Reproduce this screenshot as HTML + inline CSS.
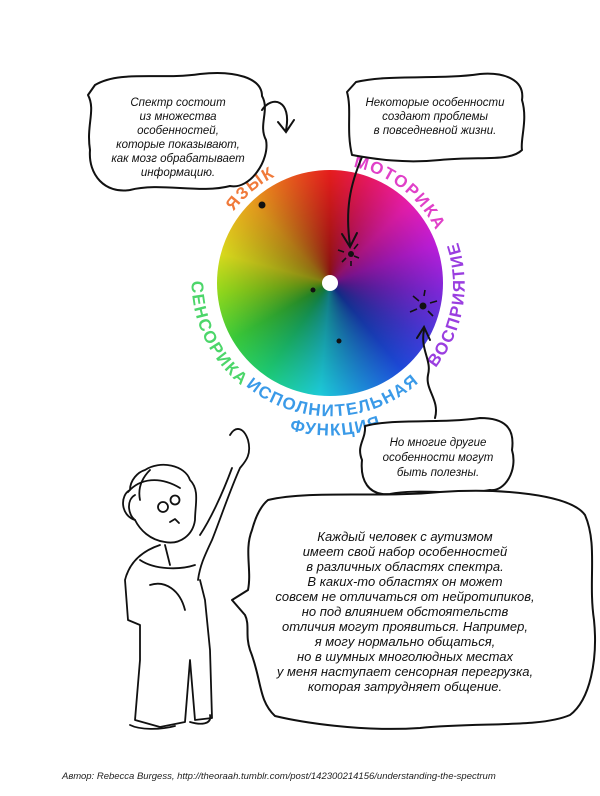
<!DOCTYPE html>
<html><head><meta charset="utf-8"><style>
html,body{margin:0;padding:0;background:#fff}
#c{position:relative;width:600px;height:796px;overflow:hidden;background:#fff}
.wheel{position:absolute;left:217px;top:170px;width:226px;height:226px;border-radius:50%;
background:radial-gradient(circle,rgba(0,0,0,.5) 0%,rgba(0,0,0,.3) 35%,rgba(0,0,0,.1) 70%,rgba(0,0,0,0) 100%),
conic-gradient(#ff2020 0deg,#ff1a6a 20deg,#ff20c0 45deg,#d020f0 70deg,#8a2cf0 95deg,#4a40f0 120deg,#2050f0 140deg,#20a0f0 165deg,#20e0f0 185deg,#20e080 215deg,#40e040 240deg,#a0f020 265deg,#f0f020 285deg,#ffb020 315deg,#ff6020 340deg,#ff2020 360deg)}
svg{position:absolute;left:0;top:0}
text{font-family:"Liberation Sans",sans-serif}
.t{font-style:italic;font-size:11.5px;fill:#111;text-anchor:middle}
.b{font-style:italic;font-size:13px;fill:#111;text-anchor:middle}
.lab{font-weight:bold;font-size:17px;letter-spacing:1.5px}
</style></head><body><div id="c">
<div class="wheel"></div>
<svg width="600" height="796" viewBox="0 0 600 796">
<defs>
<path id="p1" d="M217,242 A120 120 0 0 1 309,165"/>
<path id="p2" d="M340,165 A118 118 0 0 1 444,252"/>
<path id="p3" d="M433,371 A134 134 0 0 0 456,237"/>
<path id="p4" d="M236,377 A133 133 0 0 0 432,369"/>
<path id="p5" d="M265,421 A152 152 0 0 0 406,415"/>
<path id="p6" d="M196,247 A134 134 0 0 0 272,404"/>
</defs>
<circle cx="330" cy="283" r="8" fill="#fff"/>
<circle cx="262" cy="205" r="3.5" fill="#111"/>
<circle cx="313" cy="290" r="2.5" fill="#111"/>
<circle cx="339" cy="341" r="2.5" fill="#111"/>
<circle cx="351" cy="254" r="3" fill="#111"/>
<circle cx="423" cy="306" r="3.5" fill="#111"/>
<g stroke="#111" stroke-width="1.6" fill="none">
<path d="M338,250 l6,2 M342,262 l4,-4 M351,266 l0,-5 M359,258 l-5,-2 M358,244 l-4,5"/>
<path d="M410,312 l7,-3 M413,296 l6,5 M425,290 l-1,6 M437,301 l-7,2 M433,316 l-5,-5"/>
</g>
<g class="lab">
<text fill="#f07a3a"><textPath href="#p1" startOffset="50%" text-anchor="middle">ЯЗЫК</textPath></text>
<text fill="#e040c8"><textPath href="#p2" startOffset="47%" text-anchor="middle">МОТОРИКА</textPath></text>
<text fill="#9a3ee0"><textPath href="#p3" startOffset="50%" text-anchor="middle">ВОСПРИЯТИЕ</textPath></text>
<text fill="#3a9ae8"><textPath href="#p4" startOffset="49%" text-anchor="middle">ИСПОЛНИТЕЛЬНАЯ</textPath></text>
<text fill="#3a9ae8"><textPath href="#p5" startOffset="50%" text-anchor="middle">ФУНКЦИЯ</textPath></text>
<text fill="#4cd66a"><textPath href="#p6" startOffset="50%" text-anchor="middle">СЕНСОРИКА</textPath></text>
</g>
<g stroke="#111" stroke-width="2" fill="#fff" stroke-linejoin="round">
<path d="M95,85 C120,70 160,80 200,74 C235,70 262,78 262,96 C270,110 258,125 266,140 C270,160 250,190 230,186 C200,194 160,182 130,190 C105,194 88,175 90,150 C86,125 96,110 88,95 Z"/>
<path d="M356,82 C390,74 440,80 480,74 C505,72 525,80 522,100 C528,120 520,140 522,150 C510,162 480,156 440,160 C400,164 370,158 352,155 C346,130 352,110 347,92 Z"/>
<path d="M365,426 C395,418 440,424 480,418 C505,418 515,428 512,450 C518,470 505,492 490,490 C460,496 420,488 390,494 C368,496 360,480 362,460 C356,445 366,440 365,426 Z"/>
<path d="M268,500 C310,490 380,498 440,492 C500,488 570,494 585,515 C598,545 588,580 594,620 C598,660 590,700 570,715 C540,728 480,722 420,728 C360,732 300,722 275,716 C258,700 262,680 250,650 C245,635 250,625 245,615 L232,600 L248,590 C252,570 244,550 252,530 C256,515 262,505 268,500 Z"/>
</g>
<g stroke="#111" stroke-width="2" fill="none" stroke-linecap="round">
<path d="M262,110 C272,95 292,100 286,130"/>
<path d="M278,122 L286,132 L294,120"/>
<path d="M362,157 C350,185 345,210 350,245"/>
<path d="M342,234 L350,247 L357,233"/>
<path d="M435,418 C440,400 425,390 428,375 C432,360 420,350 424,330"/>
<path d="M417,338 L424,327 L430,340"/>
</g>
<g class="t">
<text x="178" y="106">Спектр состоит</text>
<text x="178" y="120">из множества</text>
<text x="178" y="134">особенностей,</text>
<text x="178" y="148">которые показывают,</text>
<text x="178" y="162">как мозг обрабатывает</text>
<text x="178" y="176">информацию.</text>
<text x="435" y="106">Некоторые особенности</text>
<text x="435" y="120">создают проблемы</text>
<text x="435" y="134">в повседневной жизни.</text>
<text x="438" y="446">Но многие другие</text>
<text x="438" y="461">особенности могут</text>
<text x="438" y="476">быть полезны.</text>
</g>
<g class="b">
<text x="405" y="541">Каждый человек с аутизмом</text>
<text x="405" y="556">имеет свой набор особенностей</text>
<text x="405" y="571">в различных областях спектра.</text>
<text x="405" y="586">В каких-то областях он может</text>
<text x="405" y="601">совсем не отличаться от нейротипиков,</text>
<text x="405" y="616">но под влиянием обстоятельств</text>
<text x="405" y="631">отличия могут проявиться. Например,</text>
<text x="405" y="646">я могу нормально общаться,</text>
<text x="405" y="661">но в шумных многолюдных местах</text>
<text x="405" y="676">у меня наступает сенсорная перегрузка,</text>
<text x="405" y="691">которая затрудняет общение.</text>
</g>
<g stroke="#111" stroke-width="1.8" fill="none" stroke-linejoin="round" stroke-linecap="round">
<path d="M145,470 C160,460 185,465 190,480 C200,490 195,505 195,520 C193,535 180,545 165,542 C150,540 140,530 135,520 C120,515 120,495 130,490 C130,480 138,472 145,470 Z"/>
<path d="M128,492 C140,478 160,476 180,488 M150,470 C140,480 138,490 140,500"/>
<path d="M135,520 C128,515 126,500 135,495"/>
<circle cx="163" cy="507" r="5"/><circle cx="175" cy="500" r="4.5"/>
<path d="M170,522 l5,-3 l4,4"/>
<path d="M230,435 C236,425 244,428 248,440 C252,455 245,462 240,468 C230,490 220,520 212,540 C205,555 200,565 198,580"/>
<path d="M232,468 C222,495 210,520 200,535"/>
<path d="M165,545 L170,565 M160,545 C145,550 130,560 125,580 L128,620 L140,625 L140,660 L135,720 L160,727 L185,722 L190,660 L195,720 L212,718 L210,650 L205,600 L200,580"/>
<path d="M140,560 C155,570 180,570 195,565 M150,585 C165,580 180,590 185,610"/>
<path d="M130,725 C140,730 160,730 175,726 M190,722 C200,725 212,725 210,715"/>
</g>
<text x="62" y="779" style="font-style:italic;font-size:9.5px;fill:#222">Автор: Rebecca Burgess, http://theoraah.tumblr.com/post/142300214156/understanding-the-spectrum</text>
</svg>
</div></body></html>
